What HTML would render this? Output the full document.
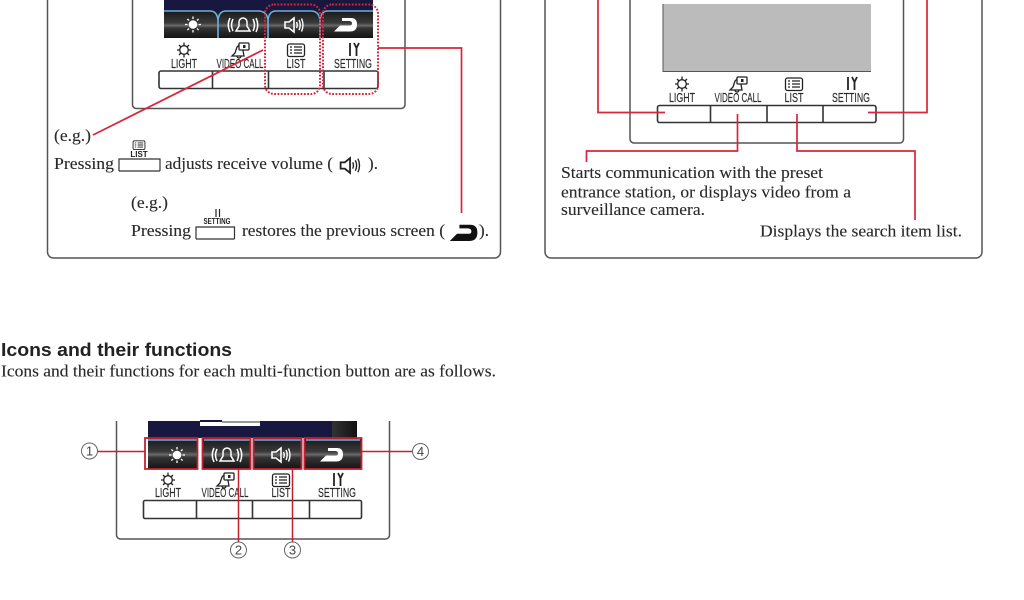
<!DOCTYPE html>
<html><head><meta charset="utf-8"><style>
html,body{margin:0;padding:0;background:#fff;width:1024px;height:600px;overflow:hidden}
svg{display:block}
.s{font-family:"Liberation Serif",serif;font-size:16.500px;fill:#2a2a2a;stroke:#2a2a2a;stroke-width:.12}
.l{font-family:"Liberation Sans",sans-serif;font-size:13px;fill:#2a2a2a;text-anchor:middle;stroke:#2a2a2a;stroke-width:.15}
.n{font-family:"Liberation Sans",sans-serif;font-size:13px;fill:#444;text-anchor:middle}
.r{stroke:#d8263c;stroke-width:1.700;fill:none}
.b{fill:none;stroke:#555;stroke-width:1.500}
.k{fill:none;stroke:#333;stroke-width:1.600}
</style></head><body>
<svg width="1024" height="600" viewBox="0 0 1024 600" xmlns="http://www.w3.org/2000/svg">
<defs>
<linearGradient id="g" x1="0" y1="0" x2="0" y2="1"><stop offset="0" stop-color="#1c1c1e"/><stop offset=".42" stop-color="#3a3a3a"/><stop offset=".52" stop-color="#6a6a6a"/><stop offset=".62" stop-color="#333"/><stop offset="1" stop-color="#141414"/></linearGradient>
<linearGradient id="h" x1="0" y1="0" x2="1" y2="0"><stop offset="0" stop-color="#333"/><stop offset="1" stop-color="#111"/></linearGradient>
<g id="sun"><circle r="4.300" fill="#fff"/><g stroke="#fff" stroke-width="1.300"><path d="M0-8V-5.500M0 8V5.500M-8 0H-5.500M8 0H5.500M-5.600-5.600L-4-4M5.600-5.600L4-4M-5.600 5.600L-4 4M5.600 5.600L4 4"/></g></g>
<g id="bell" fill="none" stroke="#fff" stroke-width="1.500"><path d="M-7 6H7L4 1V-3A4 4 0 0 0-4-3V1Z"/><path d="M-10-6Q-13 0-10 6M-13-7Q-16.500 0-13 7M10-6Q13 0 10 6M13-7Q16.500 0 13 7"/></g>
<g id="spk" fill="none" stroke="#fff" stroke-width="1.400"><path d="M-8-3H-4L1-7V7L-4 3H-8Z" stroke-width="1.600"/><path d="M3.500-3Q5 0 3.500 3M6-5Q8.500 0 6 5M8.500-6.500Q11.500 0 8.500 6.500"/></g>
<path id="back" d="M-11 7.500L-5 1.500H5Q7 1.500 7-0.500Q7-3 4-3H-3V-6H6Q12-6 12 0.500Q12 7.500 5 7.500Z" fill="#fff"/>
<g id="ilight" fill="none" stroke="#222" stroke-width="1.300"><circle r="4.300"/><path d="M0-7.500V-4.500M0 7.500V4.500M-7 0H-4.500M7 0H4.500M-5-5L-3-3M5-5L3-3M-5 5L-3 3M5 5L3 3"/></g>
<g id="ivid" fill="none" stroke="#222" stroke-width="1.300"><path d="M-8 6L-5 3L-3-3L-1-5L2-5L4 6Z"/><rect x="-1" y="-7" width="10" height="7" rx="1" fill="#fff"/><rect x="3" y="-5" width="2.500" height="3" fill="#222" stroke="none"/><path d="M-3 6A2 2 0 0 0 1 6"/></g>
<g id="ilist" fill="none" stroke="#222" stroke-width="1.300"><rect x="-8.500" y="-6" width="17" height="12.500" rx="2"/><path d="M-6-3H-4M-2-3H6M-6 0H-4M-2 0H6M-6 3H-4M-2 3H6"/></g>
<g id="iset" fill="none" stroke="#222" stroke-width="1.800"><path d="M-3-7V6"/><path d="M1-7L3.500-2L6-7M3.500-2V6"/></g>
</defs>

<!-- Left panel -->
<path class="b" d="M47.500 -5V252A6 6 0 0 0 53.500 258H494A6 6 0 0 0 500.500 252V-5"/>
<path class="b" d="M132.500 -5V104A4 4 0 0 0 136.500 108.500H401A4 4 0 0 0 405 104V-5"/>
<rect x="164" y="0" width="209" height="12" fill="#17173f"/>
<rect x="164" y="12" width="209" height="26" fill="url(#g)"/>
<path d="M164 11H210Q217 11 218 20V38M218 20Q219 11 226 11H258Q267 11 268 20V38M268 20Q269 11 276 11H311Q319 11 320 20V38M320 20Q321 11 328 11H373" fill="none" stroke="#6fb0e0" stroke-width="1.600"/>
<use href="#sun" x="193" y="24.500"/>
<use href="#bell" x="243" y="25"/>
<use href="#spk" x="293" y="25"/>
<use href="#back" x="345" y="24"/>
<use href="#ilight" x="184" y="50"/>
<use href="#ivid" x="240" y="50"/>
<use href="#ilist" x="296" y="50"/>
<use href="#iset" x="353" y="50"/>
<text class="l" x="184" y="68" textLength="26" lengthAdjust="spacingAndGlyphs">LIGHT</text>
<text class="l" x="240" y="68" textLength="47" lengthAdjust="spacingAndGlyphs">VIDEO CALL</text>
<text class="l" x="296" y="68" textLength="19" lengthAdjust="spacingAndGlyphs">LIST</text>
<text class="l" x="353" y="68" textLength="38" lengthAdjust="spacingAndGlyphs">SETTING</text>
<rect class="k" x="159" y="71" width="219" height="17.500" rx="2"/>
<path class="k" d="M212.500 71V88.500M268.500 71V88.500M324 71V88.500"/>
<rect x="265" y="4.500" width="55" height="89.500" rx="9" fill="none" stroke="#d8263c" stroke-width="2" stroke-dasharray="1.800 1.500"/>
<rect x="323" y="4.500" width="55" height="89.500" rx="9" fill="none" stroke="#d8263c" stroke-width="2" stroke-dasharray="1.800 1.500"/>
<path class="r" d="M263 50L93 135"/>
<path class="r" d="M378 48H461.500V213"/>
<text class="s" x="54" y="141" textLength="37" lengthAdjust="spacingAndGlyphs">(e.g.)</text>
<text class="s" x="54" y="169" textLength="60" lengthAdjust="spacingAndGlyphs">Pressing</text>
<g transform="translate(139,145) scale(.7)"><use href="#ilist"/></g>
<text x="139" y="157" style="font-family:'Liberation Sans',sans-serif;font-size:8px;font-weight:bold;fill:#222;text-anchor:middle">LIST</text>
<path d="M119 171V159H160V171M119 171H160" fill="none" stroke="#333" stroke-width="1.200"/>
<text class="s" x="165" y="169" textLength="168" lengthAdjust="spacingAndGlyphs">adjusts receive volume (</text>
<g transform="translate(349,165.500) scale(1.050)"><path d="M-8-3H-4L1-7V7L-4 3H-8Z" fill="none" stroke="#222" stroke-width="1.700"/><path d="M3.500-3Q5 0 3.500 3M6-5Q8.500 0 6 5M8.500-6.500Q11.500 0 8.500 6.500" fill="none" stroke="#222" stroke-width="1.300"/></g>
<text class="s" x="368" y="169" textLength="10" lengthAdjust="spacingAndGlyphs">).</text>
<text class="s" x="131" y="208" textLength="37" lengthAdjust="spacingAndGlyphs">(e.g.)</text>
<text class="s" x="131" y="236" textLength="60" lengthAdjust="spacingAndGlyphs">Pressing</text>
<path d="M216 209V217M219.500 209V217" stroke="#222" stroke-width="1.200" fill="none"/>
<text x="217" y="224" textLength="27" lengthAdjust="spacingAndGlyphs" style="font-family:'Liberation Sans',sans-serif;font-size:8px;font-weight:bold;fill:#222;text-anchor:middle">SETTING</text>
<path d="M196 239V227H234.500V239M196 239H234.500" fill="none" stroke="#333" stroke-width="1.200"/>
<text class="s" x="242" y="236" textLength="203" lengthAdjust="spacingAndGlyphs">restores the previous screen (</text>
<g transform="translate(463,232) scale(1.200)"><path d="M-11 7.500L-5 1.500H5Q7 1.500 7-0.500Q7-3 4-3H-3V-6H6Q12-6 12 0.500Q12 7.500 5 7.500Z" fill="#111"/></g>
<text class="s" x="479" y="236" textLength="10" lengthAdjust="spacingAndGlyphs">).</text>

<!-- Right panel -->
<path class="b" d="M545 -5V252A6 6 0 0 0 551 258H976A6 6 0 0 0 982 252V-5"/>
<path class="b" d="M630 -5V139A4 4 0 0 0 634 143H899A4 4 0 0 0 903.500 139V-5"/>
<rect x="663" y="4" width="208" height="67.500" fill="#bbb"/>
<path d="M663 4V71.500H871" fill="none" stroke="#555" stroke-width="1"/>
<use href="#ilight" x="682" y="84"/>
<use href="#ivid" x="738" y="84"/>
<use href="#ilist" x="794" y="84"/>
<use href="#iset" x="851" y="84"/>
<text class="l" x="682" y="102" textLength="26" lengthAdjust="spacingAndGlyphs">LIGHT</text>
<text class="l" x="738" y="102" textLength="47" lengthAdjust="spacingAndGlyphs">VIDEO CALL</text>
<text class="l" x="794" y="102" textLength="19" lengthAdjust="spacingAndGlyphs">LIST</text>
<text class="l" x="851" y="102" textLength="38" lengthAdjust="spacingAndGlyphs">SETTING</text>
<rect class="k" x="657.500" y="105.500" width="218.500" height="17" rx="2"/>
<path class="k" d="M710.500 105.500V122.500M767 105.500V122.500M823 105.500V122.500"/>
<path class="r" d="M598 -2V112.500H665"/>
<path class="r" d="M927 -2V112.500H868"/>
<path class="r" d="M737.500 114V151H586.500V162"/>
<path class="r" d="M797 114V151H915V220"/>
<text class="s" x="561" y="178" textLength="262" lengthAdjust="spacingAndGlyphs">Starts communication with the preset</text>
<text class="s" x="561" y="197.500" textLength="290" lengthAdjust="spacingAndGlyphs">entrance station, or displays video from a</text>
<text class="s" x="561" y="215" textLength="144" lengthAdjust="spacingAndGlyphs">surveillance camera.</text>
<text class="s" x="760" y="236.500" textLength="202" lengthAdjust="spacingAndGlyphs">Displays the search item list.</text>

<!-- Heading -->
<text x="1" y="356" textLength="231" lengthAdjust="spacingAndGlyphs" style="font-family:'Liberation Sans',sans-serif;font-weight:bold;font-size:18.500px;fill:#222">Icons and their functions</text>
<text class="s" x="1" y="376.500" textLength="495" lengthAdjust="spacingAndGlyphs">Icons and their functions for each multi-function button are as follows.</text>

<!-- Bottom diagram -->
<path class="b" d="M116.500 421V535A4 4 0 0 0 120.500 539H386A4 4 0 0 0 389.500 535V421"/>
<rect x="148" y="421" width="209" height="18" fill="#17173f"/>
<rect x="200" y="420" width="60" height="6" fill="#fff"/>
<rect x="200" y="420" width="22" height="2" fill="#17173f"/>
<rect x="222" y="421" width="38" height="2" fill="#999"/>
<rect x="332" y="421" width="25" height="18" fill="url(#h)"/>
<rect x="148" y="439" width="213" height="30" fill="url(#g)"/>
<path d="M148 440H197M204 440H250M254 440H301M306 440H360" stroke="#6fb0e0" stroke-width="1.500" fill="none"/>
<rect x="198" y="438" width="5" height="31" fill="#fff"/>
<rect x="250.500" y="438" width="3" height="31" fill="#dfe8ef"/>
<rect x="301.500" y="438" width="3" height="31" fill="#dfe8ef"/>
<rect x="145" y="438" width="3" height="31" fill="#fff"/>
<use href="#sun" x="177" y="455"/>
<use href="#bell" x="227" y="455"/>
<use href="#spk" x="280" y="455"/>
<use href="#back" x="331" y="454"/>
<g fill="none" stroke="#c4202f" stroke-width="1.800">
<rect x="145" y="438" width="52.500" height="31"/>
<rect x="202.500" y="438" width="48" height="31"/>
<rect x="253.500" y="438" width="48" height="31"/>
<rect x="304.500" y="438" width="57" height="31"/>
</g>
<use href="#ilight" x="168" y="480"/>
<use href="#ivid" x="225" y="480"/>
<use href="#ilist" x="281" y="480"/>
<use href="#iset" x="337" y="480"/>
<text class="l" x="168" y="497" textLength="26" lengthAdjust="spacingAndGlyphs">LIGHT</text>
<text class="l" x="225" y="497" textLength="47" lengthAdjust="spacingAndGlyphs">VIDEO CALL</text>
<text class="l" x="281" y="497" textLength="19" lengthAdjust="spacingAndGlyphs">LIST</text>
<text class="l" x="337" y="497" textLength="38" lengthAdjust="spacingAndGlyphs">SETTING</text>
<rect class="k" x="143.500" y="500.500" width="218" height="18" rx="1.500"/>
<path class="k" d="M196.500 500.500V518.500M252.500 500.500V518.500M309.500 500.500V518.500"/>
<g fill="none" stroke="#c4202f" stroke-width="1.500">
<path d="M97 451.500H145M362 451.500H412M238.500 469V542M292.500 469V542"/>
</g>
<g fill="#fff" stroke="#666" stroke-width="1">
<circle cx="89.500" cy="451" r="8"/><circle cx="420.500" cy="451.500" r="8"/>
<circle cx="238.500" cy="550" r="8"/><circle cx="292.500" cy="550" r="8"/>
</g>
<text class="n" x="89.500" y="455.500">1</text>
<text class="n" x="420.500" y="456">4</text>
<text class="n" x="238.500" y="554.500">2</text>
<text class="n" x="292.500" y="554.500">3</text>
</svg>
</body></html>
